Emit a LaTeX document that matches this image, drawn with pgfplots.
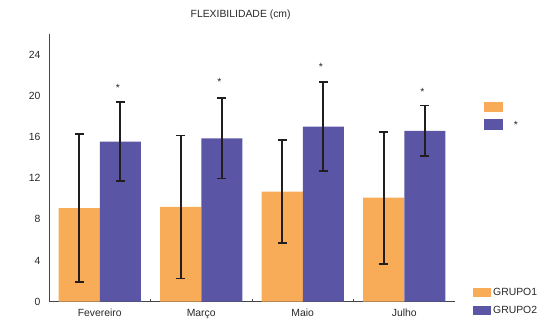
\documentclass[border=0pt]{standalone}
\usepackage{fontspec}
\setmainfont{Liberation Sans}
\usepackage{pgfplots}
\pgfplotsset{compat=1.18}

\definecolor{grupoA}{RGB}{248,172,88}
\definecolor{grupoB}{RGB}{90,85,164}
\definecolor{errcol}{RGB}{34,30,32}
\definecolor{axcol}{RGB}{70,70,70}
\definecolor{txtcol}{RGB}{40,40,40}

\newcommand{\chartfont}{\fontsize{10.4bp}{12.5bp}\selectfont}

\begin{document}
\chartfont
\begin{tikzpicture}
\useasboundingbox (0,0) rectangle (544bp,320bp);
\begin{axis}[
  at={(49bp,18.3bp)}, anchor=south west,
  scale only axis, width=406bp, height=267.7bp,
  xmin=-0.5, xmax=3.5, ymin=0, ymax=26,
  ybar, bar width=0.404,
  axis lines=left, axis line style={-, draw=axcol, line width=0.8bp},
  xtick={0,1,2,3},
  xticklabels={Fevereiro,Março,Maio,Julho},
  extra x ticks={0.5,1.5,2.5},
  extra x tick labels={},
  extra x tick style={major tick length=3bp, tick align=inside, tick style={draw=axcol, line width=0.8bp}},
  ytick={0,4,...,24},
  major tick length=0pt,
  ytick style={draw=axcol, line width=0.8bp},
  ticklabel style={font=\chartfont, text=txtcol},
  /pgf/number format/assume math mode=true,
  xticklabel style={yshift=-3.5bp},
  yticklabel style={xshift=-5bp},
  title={FLEXIBILIDADE (cm)},
  title style={at={(0.472,1.071)}, anchor=center, yshift=-6pt, font=\chartfont, text=txtcol},
  legend style={at={(1.0443,0.059)}, anchor=north west, draw=none, fill=none,
    inner sep=0pt, row sep=5bp,
    font=\chartfont, text=txtcol,
    cells={anchor=west}},
  clip=false,
]
% GRUPO1: mean +- SD
\addplot[bar shift=-0.202, fill=grupoA, draw=none,
  legend image code/.code={\fill[fill=grupoA] (0bp,-4.5bp) rectangle (18bp,4.5bp);},
  error bars/.cd, y dir=both, y explicit,
  error bar style={line width=1.8bp, draw=errcol},
  error mark options={rotate=90, mark size=4.3bp, line width=1.8bp, draw=errcol}]
coordinates {
  (0,9.10)  +- (0,7.20)
  (1,9.20)  +- (0,6.95)
  (2,10.70) +- (0,5.00)
  (3,10.10) +- (0,6.40)
};
\addlegendentry{GRUPO1}
% GRUPO2: mean +- SD
\addplot[bar shift=0.202, fill=grupoB, draw=none,
  legend image code/.code={\fill[fill=grupoB] (0bp,-4.5bp) rectangle (18bp,4.5bp);},
  error bars/.cd, y dir=both, y explicit,
  error bar style={line width=1.8bp, draw=errcol},
  error mark options={rotate=90, mark size=4.3bp, line width=1.8bp, draw=errcol}]
coordinates {
  (0,15.55) +- (0,3.85)
  (1,15.87) +- (0,3.90)
  (2,17.00) +- (0,4.33)
  (3,16.60) +- (0,2.45)
};
\addlegendentry{GRUPO2}
% significance markers above GRUPO2
\addplot[forget plot, bar shift=0.18, draw=none, fill=none,
  nodes near coords={*},
  every node near coord/.append style={anchor=center, inner sep=0pt, text=txtcol,
    font=\chartfont}]
coordinates {
  (0,20.80)
  (1,21.30)
  (2,22.80)
  (3,20.40)
};
\end{axis}
% key swatches at upper right
\fill[grupoA] (484bp,208bp) rectangle (503bp,218bp);
\fill[grupoB] (484bp,190bp) rectangle (503bp,201bp);
\node[text=txtcol, inner sep=0pt, anchor=center] at (516bp,195.5bp) {*};
\end{tikzpicture}
\end{document}
